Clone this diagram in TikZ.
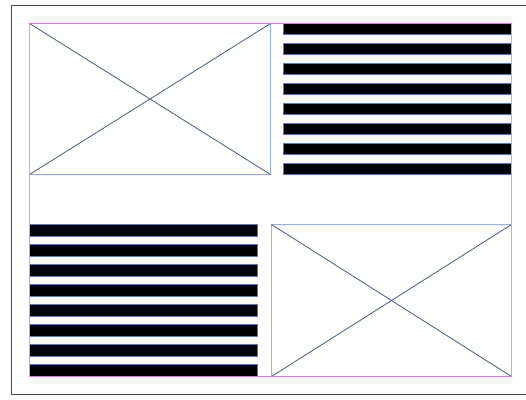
\documentclass[tikz,border=0pt]{standalone}
\definecolor{framegray}{HTML}{4A4A4A}
\definecolor{boxblue}{HTML}{8FB0FF}
\definecolor{stripeblue}{HTML}{5577CC}
\definecolor{diagcol}{HTML}{56688A}
\definecolor{magtop}{HTML}{E46CE8}
\definecolor{magside}{HTML}{C9A2FF}
\begin{document}
\begin{tikzpicture}[x=1pt,y=-1pt,
  crossbox/.style={draw=boxblue,line width=1pt},
  diag/.style={draw=diagcol,line width=0.9pt},
  stripe/.style={fill=black,draw=stripeblue,line width=1pt}]
\useasboundingbox (0,0) rectangle (526,399);
% outer frame
\draw[framegray,line width=1.3pt] (527,5.5) -- (11.5,5.5) -- (11.5,394.5) -- (527,394.5);
% top-left cross box
\coordinate (tlA) at (29.5,23.5); \coordinate (tlB) at (270.5,174.5);
\draw[crossbox] (tlA) rectangle (tlB);
\draw[diag] (tlA) -- (tlB);
\draw[diag] (29.5,174.5) -- (270.5,23.5);
% bottom-right cross box
\coordinate (brA) at (271.5,224.5); \coordinate (brB) at (511.5,376.5);
\draw[crossbox] (brA) rectangle (brB);
\draw[diag] (brA) -- (brB);
\draw[diag] (271.5,376.5) -- (511.5,224.5);
% top-right stripes
\foreach \k in {0,...,7}{
  \draw[stripe] (283.5,23.5+20*\k) rectangle (511.5,34.5+20*\k);
}
% bottom-left stripes
\foreach \k in {0,...,7}{
  \draw[stripe] (29.5,224.5+20*\k) rectangle (257.5,236.5+20*\k);
}
% magenta outer boundary
\draw[magside,line width=1.4pt] (29.5,23.5) -- (29.5,376.5);
\draw[magside,line width=1.4pt] (511.5,23.5) -- (511.5,376.5);
\draw[magtop,line width=1.2pt] (29.5,23.5) -- (511.5,23.5);
\draw[magtop,line width=1.2pt] (29.5,376.5) -- (511.5,376.5);
\end{tikzpicture}
\end{document}
